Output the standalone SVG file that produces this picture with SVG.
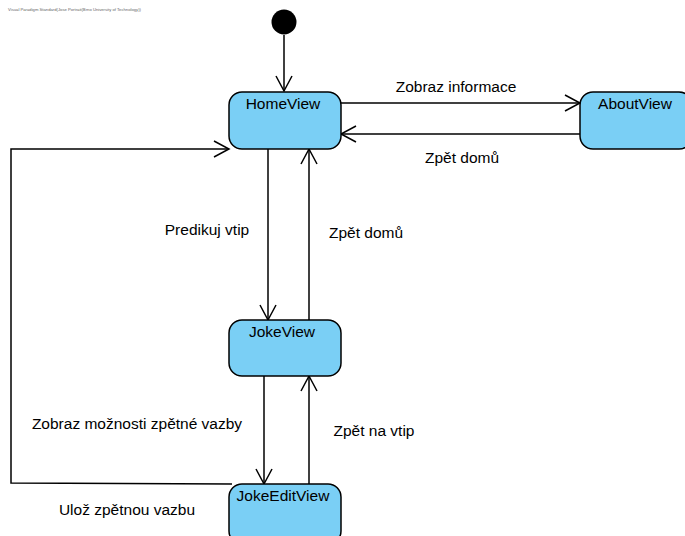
<svg xmlns="http://www.w3.org/2000/svg" width="685" height="536" viewBox="0 0 685 536">
<defs>
<style>
.node rect{fill:#7ACFF5;stroke:#000;stroke-width:1.5}
.lbl{font-family:"Liberation Sans",Arial,sans-serif;font-size:15.5px;fill:#000}
.conn path{fill:none;stroke:#000;stroke-width:1.5}
.wm{font-family:"Liberation Sans",Arial,sans-serif;font-size:4.2px;fill:#666}
</style>
<marker id="arr" markerUnits="userSpaceOnUse" markerWidth="20" markerHeight="20" refX="16" refY="9" orient="auto">
<path d="M1,1 L16,9 L1,17" fill="none" stroke="#000" stroke-width="1.5"/>
</marker>
</defs>
<rect width="685" height="536" fill="#fff"/>
<text class="wm" x="8" y="11">Visual Paradigm Standard(Jose Portrait(Brno University of Technology))</text>
<g id="initial"><circle cx="284" cy="22" r="12.5" fill="#000"/></g>
<g class="conn" id="connectors">
<path d="M284,35 L284,91" marker-end="url(#arr)"/>
<path d="M341,103 L580,103" marker-end="url(#arr)"/>
<path d="M580,134 L341,134" marker-end="url(#arr)"/>
<path d="M268,149 L268,320" marker-end="url(#arr)"/>
<path d="M309,320 L309,149" marker-end="url(#arr)"/>
<path d="M264,376 L264,484" marker-end="url(#arr)"/>
<path d="M309,484 L309,376" marker-end="url(#arr)"/>
<path d="M232,484 L11,483 L11,149 L229,149" marker-end="url(#arr)"/>
</g>
<g class="lbl">
<text x="456" y="92" text-anchor="middle">Zobraz informace</text>
<text x="462" y="163" text-anchor="middle">Zpět domů</text>
<text x="207" y="235" text-anchor="middle">Predikuj vtip</text>
<text x="366" y="238" text-anchor="middle">Zpět domů</text>
<text x="137" y="429" text-anchor="middle">Zobraz možnosti zpětné vazby</text>
<text x="374" y="436" text-anchor="middle">Zpět na vtip</text>
<text x="127" y="515" text-anchor="middle">Ulož zpětnou vazbu</text>
</g>
<g class="node" id="HomeView"><rect x="229" y="92" width="112" height="57" rx="13"/><text class="lbl" x="283" y="109" text-anchor="middle">HomeView</text></g>
<g class="node" id="AboutView"><rect x="580" y="92" width="112" height="57" rx="13"/><text class="lbl" x="635" y="109" text-anchor="middle">AboutView</text></g>
<g class="node" id="JokeView"><rect x="229" y="320" width="112" height="56" rx="13"/><text class="lbl" x="282" y="337" text-anchor="middle">JokeView</text></g>
<g class="node" id="JokeEditView"><rect x="229" y="484" width="112" height="60" rx="13"/><text class="lbl" x="283" y="501" text-anchor="middle">JokeEditView</text></g>
</svg>
